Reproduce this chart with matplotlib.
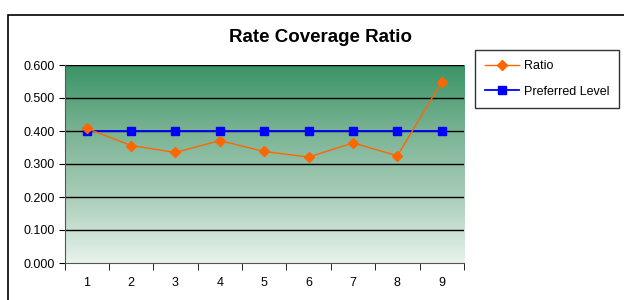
import numpy as np
import matplotlib.pyplot as plt
from matplotlib.colors import LinearSegmentedColormap
from matplotlib.patches import Rectangle

plt.rcParams['font.family'] = ['Liberation Sans', 'DejaVu Sans']

periods = [1, 2, 3, 4, 5, 6, 7, 8, 9]
ratio = [0.408, 0.356, 0.335, 0.371, 0.338, 0.321, 0.364, 0.325, 0.549]
preferred = [0.400, 0.400, 0.400, 0.400, 0.400, 0.400, 0.400, 0.400, 0.400]
y_ticks = [0.0, 0.1, 0.2, 0.3, 0.4, 0.5, 0.6]

fig = plt.figure(figsize=(6.24, 3.0), dpi=100)
fig.patch.set_facecolor('white')

# outer chart border (right/bottom run off the image)
fig.patches.append(Rectangle((8 / 624, -0.1), 1.2, 1 - 15 / 300 + 0.1,
                             transform=fig.transFigure, fill=False,
                             edgecolor='black', linewidth=1.2))

ax = fig.add_axes([64.5 / 624, 1 - 263 / 300, (464 - 64.5) / 624, (263 - 65) / 300])

# green gradient background
cmap = LinearSegmentedColormap.from_list('g', ['#e8f3ec', '#a9cdb8', '#7ab394', '#3a9466'])
grad = np.linspace(0, 1, 256).reshape(-1, 1)
ax.imshow(grad, extent=[0.5, 9.5, 0, 0.6], origin='lower', aspect='auto',
          cmap=cmap, zorder=0)

for y in y_ticks[1:]:
    ax.axhline(y, color='black', linewidth=1.0, zorder=1)

ax.plot(periods, ratio, color='#ff6600', linewidth=1.0, marker='D', markersize=5,
        markeredgecolor='#ff6600', label='Ratio', zorder=3)
ax.plot(periods, preferred, color='#0000ff', linewidth=1.3, marker='s', markersize=6,
        markeredgecolor='#0000ff', label='Preferred Level', zorder=2)

ax.set_xlim(0.5, 9.5)
ax.set_ylim(0, 0.6)
ax.set_yticks(y_ticks)
ax.set_yticklabels(['%.3f' % v for v in y_ticks], fontsize=9)
ax.set_xticks(periods)
ax.set_xticklabels([str(p) for p in periods], fontsize=9)
ax.set_xticks(np.arange(0.5, 10, 1), minor=True)
ax.tick_params(axis='x', which='major', length=0, pad=10)
ax.tick_params(axis='x', which='minor', length=5, direction='out')
ax.tick_params(axis='y', length=4, direction='out', pad=3)

for s in ['top', 'right']:
    ax.spines[s].set_visible(False)
ax.spines['left'].set_color('#555555')
ax.spines['bottom'].set_color('#555555')

fig.text(321 / 624, 1 - 37 / 300, 'Rate Coverage Ratio', ha='center', va='center',
         fontsize=13.5, fontweight='bold')

leg = fig.legend(loc='upper left', bbox_to_anchor=(475 / 624, 1 - 50 / 300),
                 frameon=True, fancybox=False, fontsize=9, handlelength=2.7,
                 handletextpad=0.4, labelspacing=1.1, borderpad=0.8,
                 borderaxespad=0)
leg.get_frame().set_edgecolor('black')
leg.get_frame().set_linewidth(1.0)

fig.savefig('out.png', dpi=100)
